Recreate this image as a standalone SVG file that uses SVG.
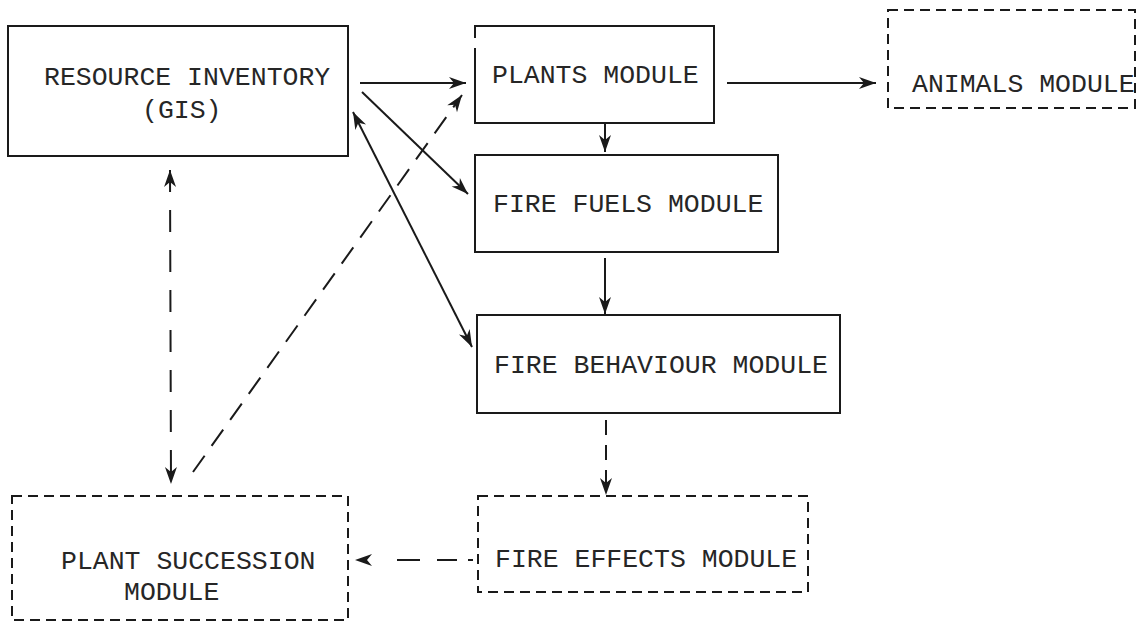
<svg xmlns="http://www.w3.org/2000/svg" width="1137" height="622" viewBox="0 0 1137 622">
  <style>
    .box { fill: none; stroke: #1a1a1a; stroke-width: 2; }
    .dbox { fill: none; stroke: #1a1a1a; stroke-width: 2; stroke-dasharray: 10 6; }
    .lbl { font-family: "Liberation Mono", "Courier New", monospace; font-size: 26.5px; fill: #262626; }
    .link { fill: none; stroke: #1a1a1a; stroke-width: 2; marker-end: url(#head); }
    .both { marker-start: url(#head); }
  </style>
  <defs>
    <marker id="head" viewBox="-18 -7 20 14" refX="0" refY="0" markerWidth="20" markerHeight="14" markerUnits="userSpaceOnUse" orient="auto-start-reverse">
      <path d="M0,0 L-17,-6 L-12,0 L-17,6 Z" fill="#1a1a1a"/>
    </marker>
  </defs>

  <rect id="bg" x="0" y="0" width="1137" height="622" fill="#ffffff"/>

  <g id="resource-inventory">
    <rect class="box" x="8" y="26" width="340" height="130"/>
    <text class="lbl" x="44" y="85">RESOURCE INVENTORY</text>
    <text class="lbl" x="142" y="118">(GIS)</text>
  </g>

  <g id="plants">
    <path class="box" d="M475,38 L475,26 L714,26 L714,123 L475,123 L475,48"/>
    <text class="lbl" x="492" y="83">PLANTS MODULE</text>
  </g>

  <g id="animals">
    <rect class="dbox" x="888" y="10" width="247" height="98"/>
    <text class="lbl" x="912" y="92">ANIMALS MODULE</text>
  </g>

  <g id="fire-fuels">
    <rect class="box" x="475" y="155" width="303" height="97"/>
    <text class="lbl" x="493" y="212">FIRE FUELS MODULE</text>
  </g>

  <g id="fire-behaviour">
    <rect class="box" x="477" y="315" width="363" height="98"/>
    <text class="lbl" x="494" y="373">FIRE BEHAVIOUR MODULE</text>
  </g>

  <g id="fire-effects">
    <rect class="dbox" x="478" y="496" width="330" height="96"/>
    <text class="lbl" x="495" y="567">FIRE EFFECTS MODULE</text>
  </g>

  <g id="plant-succession">
    <rect class="dbox" x="12" y="496" width="336" height="124"/>
    <text class="lbl" x="61" y="569">PLANT SUCCESSION</text>
    <text class="lbl" x="124" y="600">MODULE</text>
  </g>

  <g id="connectors">
    <!-- solid flows -->
    <line class="link" x1="360" y1="83" x2="466" y2="83"/>
    <line class="link" x1="362" y1="92" x2="468" y2="194"/>
    <line class="link both" x1="353" y1="112" x2="472" y2="347"/>
    <line class="link" x1="727" y1="83" x2="876" y2="83"/>
    <line class="link" x1="605" y1="124" x2="605" y2="152"/>
    <line class="link" x1="605" y1="258" x2="605" y2="314"/>
    <!-- dashed flows -->
    <line class="link" x1="606" y1="420" x2="606" y2="495" stroke-dasharray="15 10"/>
    <line class="link" x1="473" y1="560" x2="355" y2="560" stroke-dasharray="5 11 20 17 23 60"/>
    <line class="link both" x1="170" y1="170" x2="171" y2="484" stroke-dasharray="22 18"/>
    <line class="link" x1="193" y1="472" x2="462" y2="95" stroke-dasharray="20 12"/>
  </g>
</svg>
